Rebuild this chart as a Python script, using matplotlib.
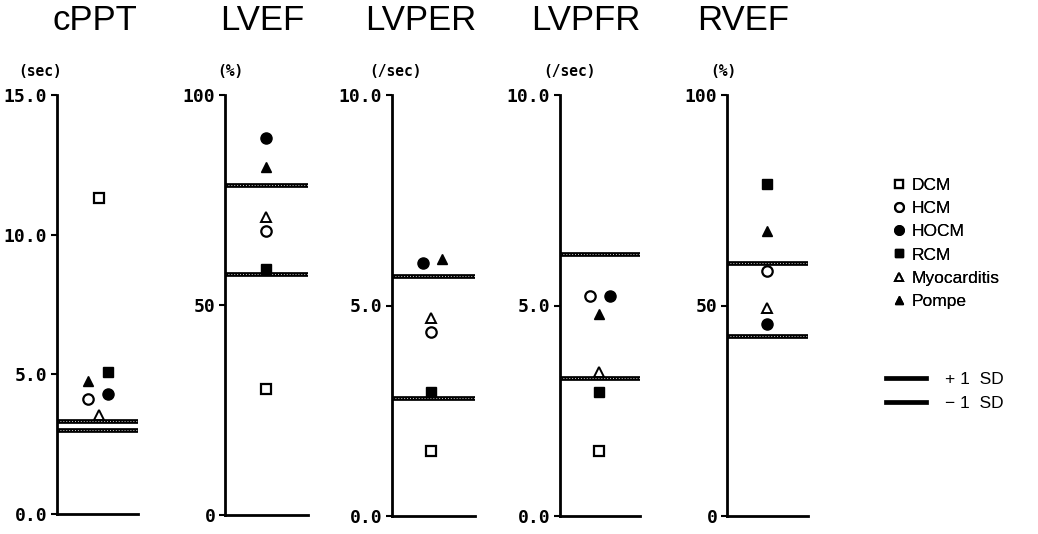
import matplotlib
matplotlib.use("Agg")
import matplotlib.pyplot as plt
import matplotlib.lines as mlines
import numpy as np

# ---------------- data ----------------
categories = ["DCM", "HCM", "HOCM", "RCM", "Myocarditis", "Pompe"]
titles = ["cPPT", "LVEF", "LVPER", "LVPFR", "RVEF"]
units = ["(sec)", "(%)", "(/sec)", "(/sec)", "(%)"]

cppt = [11.3, 4.1, 4.3, 5.1, 3.55, 4.75]
lvef = [30.0, 67.7, 89.8, 58.5, 71.0, 82.8]
lvper = [1.55, 4.37, 6.02, 2.95, 4.7, 6.1]
lvpfr = [1.55, 5.22, 5.22, 2.95, 3.43, 4.8]
rvef = [np.nan, 58.1, 45.5, 78.8, 49.4, 67.8]

sd_plus = [3.33, 78.6, 5.69, 6.22, 60.2]
sd_minus = [3.02, 57.5, 2.80, 3.27, 42.8]

ymax = [15.0, 100, 10.0, 10.0, 100]
yticks = [[0.0, 5.0, 10.0, 15.0], [0, 50, 100], [0.0, 5.0, 10.0],
          [0.0, 5.0, 10.0], [0, 50, 100]]
yticklabels = [["0.0", "5.0", "10.0", "15.0"], ["0", "50", "100"],
               ["0.0", "5.0", "10.0"], ["0.0", "5.0", "10.0"], ["0", "50", "100"]]

series = [cppt, lvef, lvper, lvpfr, rvef]

# ---------------- style / layout ----------------
W, H = 1038, 534
fig = plt.figure(figsize=(W / 100, H / 100), dpi=100)

marker_style = {
    "DCM": dict(marker="s", mfc="white", mec="black", ms=7.0, mew=1.6),
    "HCM": dict(marker="o", mfc="white", mec="black", ms=7.5, mew=1.6),
    "HOCM": dict(marker="o", mfc="black", mec="black", ms=8.0, mew=1.0),
    "RCM": dict(marker="s", mfc="black", mec="black", ms=7.5, mew=1.0),
    "Myocarditis": dict(marker="^", mfc="white", mec="black", ms=7.0, mew=1.4),
    "Pompe": dict(marker="^", mfc="black", mec="black", ms=7.5, mew=1.0),
}

# axes pixel extents (x_left, x_right, y_top, y_bottom)
panels_px = [(57, 138, 95, 514), (225, 308, 95, 515), (392, 475, 95, 516),
             (560, 640, 95, 516), (727, 808, 95, 516)]
# horizontal placement of each category within a panel (axes fraction)
xpos = [
    [0.52, 0.38, 0.63, 0.63, 0.52, 0.38],
    [0.49] * 6,
    [0.47, 0.47, 0.37, 0.47, 0.47, 0.60],
    [0.49, 0.375, 0.625, 0.49, 0.49, 0.49],
    [0.49] * 6,
]
title_x = [95, 262, 421, 586, 743]
unit_x = [40, 230, 395, 569, 723]

for i in range(5):
    x0, x1, yt, yb = panels_px[i]
    ax = fig.add_axes([x0 / W, 1 - yb / H, (x1 - x0) / W, (yb - yt) / H])
    ax.set_xlim(0, 1)
    ax.set_ylim(0, ymax[i])
    for s in ["top", "right"]:
        ax.spines[s].set_visible(False)
    for s in ["left", "bottom"]:
        ax.spines[s].set_linewidth(2.0)
        ax.spines[s].set_color("black")
    ax.set_xticks([])
    ax.set_yticks(yticks[i])
    ax.set_yticklabels(yticklabels[i], fontfamily="DejaVu Sans Mono",
                       fontweight="bold", fontsize=13)
    ax.tick_params(axis="y", direction="out", length=4, width=1.5, pad=3)

    # SD lines
    for v in (sd_plus[i], sd_minus[i]):
        ax.axhline(v, color="black", lw=3.4, zorder=2, solid_capstyle="butt")
        ax.axhline(v, color="white", lw=0.7, ls=(0, (1, 2)), zorder=2.5, alpha=0.8)

    for j, cat in enumerate(categories):
        val = series[i][j]
        if np.isnan(val):
            continue
        ax.plot([xpos[i][j]], [val], ls="none", clip_on=False, zorder=3,
                **marker_style[cat])

    fig.text(title_x[i] / W, 1 - 21 / H, titles[i], ha="center", va="center",
             fontsize=25, fontfamily="Liberation Sans")
    fig.text(unit_x[i] / W, 1 - 72 / H, units[i], ha="center", va="center",
             fontsize=10.5, fontfamily="DejaVu Sans Mono", fontweight="bold")

# ---------------- legends ----------------
handles = [mlines.Line2D([], [], ls="none", **dict(marker_style[c], ms=marker_style[c]["ms"] * 0.85))
           for c in categories]
leg1 = fig.legend(handles, categories, loc="upper left",
                  bbox_to_anchor=(893 / W, 1 - 178 / H), frameon=False,
                  prop=dict(family="Liberation Sans", size=12.5),
                  handlelength=0.7, handletextpad=0.35, labelspacing=0.46,
                  borderpad=0, borderaxespad=0)
fig.add_artist(leg1)

sd_handles = [mlines.Line2D([], [], color="black", lw=3.4),
              mlines.Line2D([], [], color="black", lw=3.4)]
leg2 = fig.legend(sd_handles, ["+ 1  SD", "\u2212 1  SD"], loc="upper left",
                  bbox_to_anchor=(886 / W, 1 - 372 / H), frameon=False,
                  prop=dict(family="Liberation Sans", size=12.5),
                  handlelength=2.3, handletextpad=1.1, labelspacing=0.48,
                  borderpad=0, borderaxespad=0)

fig.savefig("out.png", dpi=100, facecolor="white")
